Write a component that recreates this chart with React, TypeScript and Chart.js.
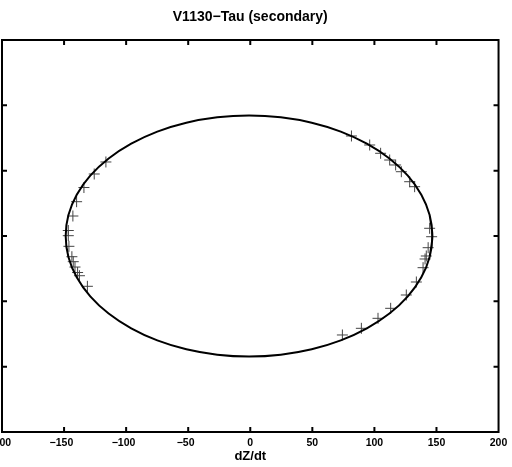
import React, { useEffect, useRef } from "react";
import { Chart, registerables } from "chart.js";

Chart.register(...registerables);

// Observed points (dZ/dt, vertical quantity)
const obsX = [
  -116.3, -125.7, -134.0, -139.9, -142.9, -146.6, -146.6, -146.1, -143.7, -142.6, -141.2, -139.1, -137.6, -131.2,
  81.5, 96.2, 105.0, 112.3, 117.1, 121.7, 128.4, 132.4, 144.5, 146.1, 143.3, 141.8, 140.8, 139.2, 133.8, 125.7,
  113.1, 102.9, 89.5, 74.2,
];
const obsY = [
  1.133, 0.949, 0.742, 0.525, 0.306, 0.084, 0.005, -0.158, -0.317, -0.393, -0.475, -0.559, -0.608, -0.77,
  1.531, 1.393, 1.266, 1.163, 1.087, 0.984, 0.831, 0.755, 0.118, -0.011, -0.179, -0.306, -0.352, -0.485, -0.704,
  -0.903, -1.107, -1.26, -1.413, -1.515,
];

// Model curve points
const curveX = [
  144.5, 146.7, 144.5, 137.8, 126.9, 112.1, 93.9, 72.9, 49.5, 24.6, -1, -26.6, -51.5, -74.9, -95.9, -114.1,
  -128.9, -139.8, -146.5, -148.7, -146.5, -139.8, -128.9, -114.1, -95.9, -74.9, -51.5, -26.6, -1, 24.6, 49.5,
  72.9, 93.9, 112.1, 126.9, 137.8, 144.5, 146.7, 144.5,
];
const curveY = [
  -0.32, 0, 0.32, 0.631, 0.923, 1.186, 1.413, 1.598, 1.734, 1.817, 1.845, 1.817, 1.734, 1.598, 1.413, 1.186,
  0.923, 0.631, 0.32, 0, -0.32, -0.631, -0.923, -1.186, -1.413, -1.598, -1.734, -1.817, -1.845, -1.817, -1.734,
  -1.598, -1.413, -1.186, -0.923, -0.631, -0.32, 0, 0.32,
];

const xTicksMin = -200;
const xTicksMax = 200;
const xStep = 50;
const yMin = -3;
const yMax = 3;
const yStep = 1;

const titleText = "V1130\u2212Tau (secondary)";
const xTitle = "dZ/dt";

const FONT = "'Liberation Sans', Arial, Helvetica, sans-serif";

const frameTicks = {
  id: "frameTicks",
  afterDatasetsDraw(chart: any) {
    const { ctx, chartArea, scales } = chart;
    const { left, right, top, bottom } = chartArea;
    ctx.save();
    ctx.strokeStyle = "#000";
    ctx.lineWidth = 2;
    const len = 5;
    ctx.beginPath();
    scales.x.ticks.forEach((t: any) => {
      if (t.value <= xTicksMin || t.value >= xTicksMax) return;
      const px = scales.x.getPixelForValue(t.value);
      ctx.moveTo(px, bottom);
      ctx.lineTo(px, bottom - len);
      ctx.moveTo(px, top);
      ctx.lineTo(px, top + len);
    });
    scales.y.ticks.forEach((t: any) => {
      if (t.value <= yMin || t.value >= yMax) return;
      const py = scales.y.getPixelForValue(t.value);
      ctx.moveTo(left, py);
      ctx.lineTo(left + len, py);
      ctx.moveTo(right, py);
      ctx.lineTo(right - len, py);
    });
    ctx.stroke();
    ctx.strokeRect(left, top, right - left, bottom - top);
    ctx.restore();
  },
};

export default function App() {
  const ref = useRef<HTMLCanvasElement>(null);
  useEffect(() => {
    if (!ref.current) return;
    const chart = new Chart(ref.current, {
      type: "scatter",
      data: {
        datasets: [
          {
            label: "model",
            data: curveX.map((x, i) => ({ x, y: curveY[i] })),
            showLine: true,
            borderColor: "#000",
            borderWidth: 2,
            pointRadius: 0,
            tension: 0.33,
            fill: false,
          },
          {
            label: "obs",
            data: obsX.map((x, i) => ({ x, y: obsY[i] })),
            pointStyle: "cross",
            pointRadius: 5.5,
            borderColor: "#444",
            borderWidth: 1,
            showLine: false,
          },
        ],
      },
      options: {
        animation: false,
        responsive: false,
        devicePixelRatio: 1,
        layout: { padding: { left: 42, right: 13, top: 0, bottom: 0 } },
        plugins: {
          legend: { display: false },
          tooltip: { enabled: false },
          title: {
            display: true,
            text: titleText,
            color: "#000",
            fullSize: false,
            font: { family: FONT, size: 14, weight: "bold", lineHeight: 1.2 },
            padding: { top: 8.4, bottom: 14.8 },
          },
        },
        scales: {
          x: {
            type: "linear",
            min: xTicksMin,
            max: xTicksMax,
            grid: { display: false, drawTicks: false },
            border: { display: false },
            ticks: {
              stepSize: xStep,
              color: "#000",
              padding: 4.7,
              maxRotation: 0,
              font: { family: FONT, size: 10.5, weight: "bold", lineHeight: 1.2 },
              callback: (v: any) => (Number(v) < 0 ? "\u2212" + String(Math.abs(Number(v))) + "\u2002" : String(v)),
            },
            title: {
              display: true,
              text: xTitle,
              color: "#000",
              font: { family: FONT, size: 13, weight: "bold", lineHeight: 1 },
              padding: { top: -4.5, bottom: 4.5 },
            },
          },
          y: {
            type: "linear",
            min: yMin,
            max: yMax,
            grid: { display: false, drawTicks: false },
            border: { display: false },
            ticks: { stepSize: yStep, display: false },
          },
        },
      },
      plugins: [frameTicks],
    });
    return () => chart.destroy();
  }, []);
  return (
    <div style={{ position: "absolute", left: -40, top: 0, width: 552, height: 467, background: "#fff" }}>
      <canvas ref={ref} width={552} height={467} />
    </div>
  );
}
